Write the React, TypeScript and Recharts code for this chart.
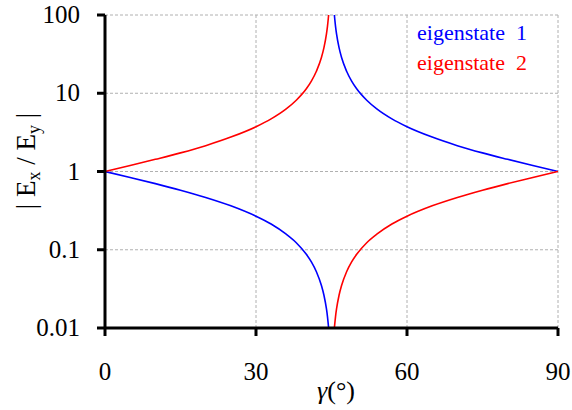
import { LineChart, Line, XAxis, YAxis, CartesianGrid, Customized } from "recharts";

// angle gamma in degrees; null row at 45 breaks both curves at the pole
const gamma = [
  0, 5, 10, 15, 20, 25, 30, 33, 36, 38, 40, 41, 42, 43, 43.5, 44, 44.2, 44.43,
  45,
  45.57, 45.8, 46, 46.5, 47, 48, 49, 50, 52, 54, 57, 60, 65, 70, 75, 80, 85, 90,
];

// eigenstate 1 |Ex/Ey|
const eig1 = [
  1, 0.839, 0.7, 0.577, 0.466, 0.364, 0.268, 0.213, 0.158, 0.123, 0.0875, 0.0699, 0.0524, 0.0349, 0.0262, 0.0175, 0.014, 0.01,
  null,
  100, 71.6, 57.3, 38.2, 28.6, 19.1, 14.3, 11.4, 8.14, 6.31, 4.7, 3.73, 2.75, 2.14, 1.73, 1.43, 1.19, 1,
];

// eigenstate 2 |Ex/Ey|
const eig2 = [
  1, 1.19, 1.43, 1.73, 2.14, 2.75, 3.73, 4.7, 6.31, 8.14, 11.4, 14.3, 19.1, 28.6, 38.2, 57.3, 71.6, 100,
  null,
  0.01, 0.014, 0.0175, 0.0262, 0.0349, 0.0524, 0.0699, 0.0875, 0.123, 0.158, 0.213, 0.268, 0.364, 0.466, 0.577, 0.7, 0.839, 1,
];

const xTicks = [0, 30, 60, 90];
const yTicks = [0.01, 0.1, 1, 10, 100];
const yTickLabels = ["0.01", "0.1", "1", "10", "100"];
const seriesNames = ["eigenstate  1", "eigenstate  2"];
const seriesColors = ["#0000ff", "#ff0000"];

const data = gamma.map((g, i) => ({ g, e1: eig1[i], e2: eig2[i] }));

const SERIF = '"Liberation Serif", "DejaVu Serif", serif';
const serifStyle = { fontFamily: SERIF };

function YLabel() {
  return (
    <text
      transform="translate(35, 161) rotate(-90)"
      textAnchor="middle"
      style={serifStyle}
      fontSize={27}
      fill="#000"
    >
      <tspan>| E</tspan>
      <tspan fontSize={18} dy={5}>x</tspan>
      <tspan dy={-5}> / E</tspan>
      <tspan fontSize={18} dy={5}>y</tspan>
      <tspan dy={-5}> |</tspan>
    </text>
  );
}

function XLabel() {
  return (
    <text x={336} y={399} textAnchor="middle" style={serifStyle} fontSize={26} fill="#000">
      <tspan fontStyle="italic">γ</tspan>
      <tspan>(°)</tspan>
    </text>
  );
}

function XTick({ x, y, payload }: any) {
  return (
    <text x={x} y={y + 42} textAnchor="middle" style={serifStyle} fontSize={25} fill="#000">
      {payload.value}
    </text>
  );
}

function YTick({ y, payload }: any) {
  const label = yTickLabels[yTicks.indexOf(payload.value)] ?? String(payload.value);
  return (
    <text x={80} y={y + 8} textAnchor="end" style={serifStyle} fontSize={25} fill="#000">
      {label}
    </text>
  );
}

function LegendText() {
  return (
    <g>
      {seriesNames.map((n, i) => (
        <text
          key={n}
          x={417}
          y={40 + i * 30}
          fontSize={22}
          fill={seriesColors[i]}
          style={{ ...serifStyle, whiteSpace: "pre" }}
        >
          {n}
        </text>
      ))}
    </g>
  );
}

export default function App() {
  return (
    <div style={{ width: 572, height: 410, background: "#fff" }}>
      <style>{"body{margin:0}"}</style>
      <LineChart
        width={572}
        height={410}
        data={data}
        margin={{ top: 15, right: 14, left: 0, bottom: 0 }}
      >
        <CartesianGrid stroke="#b0b0b0" strokeDasharray="3 2" strokeWidth={1} />
        <XAxis
          dataKey="g"
          type="number"
          domain={[0, 90]}
          ticks={xTicks}
          height={82}
          tick={<XTick />}
          tickSize={8}
          axisLine={{ stroke: "#000", strokeWidth: 3 }}
          tickLine={{ stroke: "#000", strokeWidth: 3 }}
          label={{ content: () => <XLabel /> }}
        />
        <YAxis
          scale="log"
          domain={[0.01, 100]}
          allowDataOverflow
          ticks={yTicks}
          width={105}
          tick={<YTick />}
          tickSize={8}
          axisLine={{ stroke: "#000", strokeWidth: 3 }}
          tickLine={{ stroke: "#000", strokeWidth: 3 }}
          label={{ content: () => <YLabel /> }}
        />
        <Line
          dataKey="e1"
          name={seriesNames[0]}
          stroke={seriesColors[0]}
          strokeWidth={1.6}
          dot={false}
          type="monotone"
          connectNulls={false}
          isAnimationActive={false}
        />
        <Line
          dataKey="e2"
          name={seriesNames[1]}
          stroke={seriesColors[1]}
          strokeWidth={1.6}
          dot={false}
          type="monotone"
          connectNulls={false}
          isAnimationActive={false}
        />
        <Customized component={LegendText} />
      </LineChart>
    </div>
  );
}
